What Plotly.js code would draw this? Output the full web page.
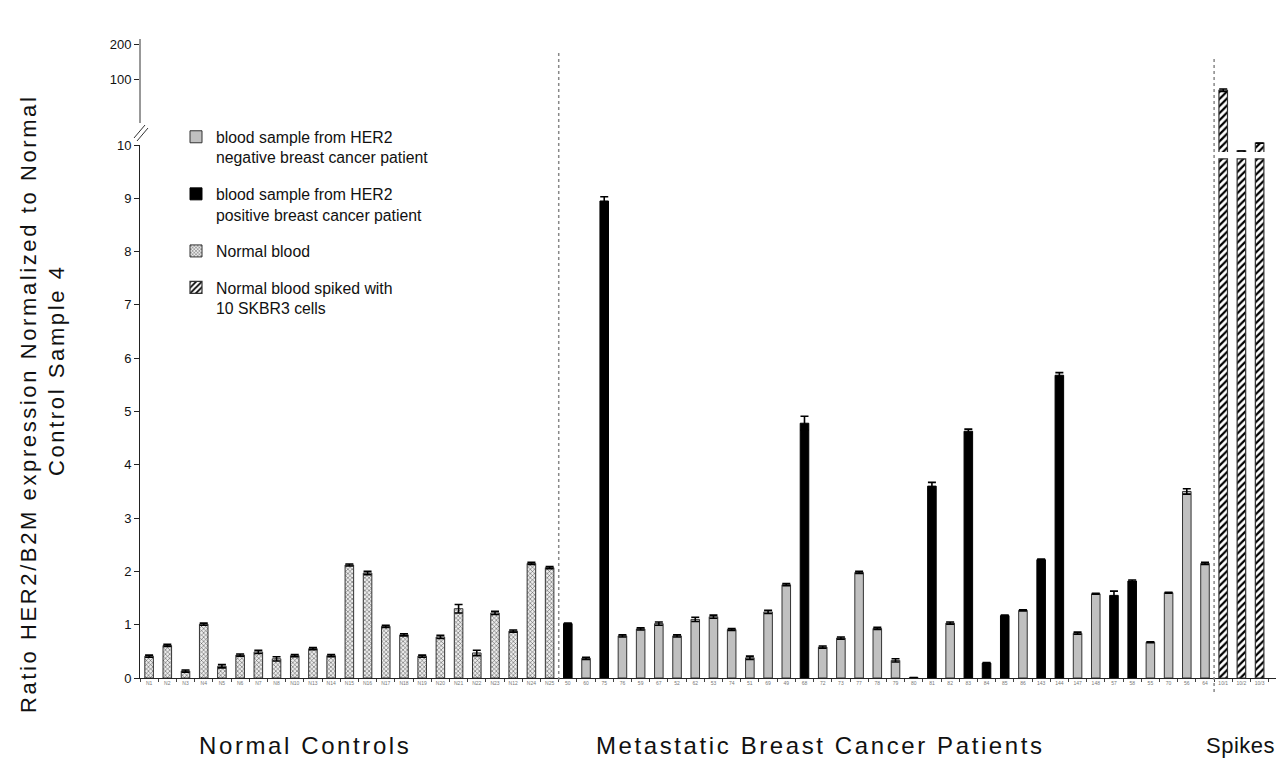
<!DOCTYPE html>
<html>
<head>
<meta charset="utf-8">
<script src="https://cdn.plot.ly/plotly-3.0.1.min.js"></script>
<style>html,body{margin:0;padding:0;background:#fff;}#chart{width:1276px;height:769px;}</style>
</head>
<body>
<div id="chart"></div>
<script>
// ---- Data ----
const normalLabels = ['N1','N2','N3','N4','N5','N6','N7','N8','N10','N13','N14','N15','N16','N17','N18','N19','N20','N21','N22','N23','N12','N24','N25'];
const normalValues = [0.41,0.61,0.13,1.01,0.22,0.43,0.49,0.36,0.42,0.55,0.42,2.12,1.97,0.97,0.81,0.41,0.77,1.30,0.47,1.22,0.88,2.15,2.07];
const normalErrors = [0.02,0.02,0.02,0.02,0.03,0.02,0.03,0.04,0.02,0.02,0.02,0.02,0.03,0.02,0.02,0.02,0.03,0.08,0.05,0.03,0.02,0.02,0.02];

const patientLabels = ['50','60','75','76','59','67','52','62','53','74','51','69','49','68','72','73','77','78','79','80','81','82','83','84','85','86','143','144','147','148','57','58','55','70','56','64'];
const patientValues = [1.02,0.37,8.95,0.79,0.92,1.02,0.79,1.10,1.15,0.91,0.38,1.24,1.75,4.78,0.58,0.75,1.98,0.93,0.33,0.01,3.60,1.03,4.63,0.28,1.17,1.27,2.22,5.68,0.84,1.58,1.55,1.82,0.67,1.60,3.50,2.15];
const patientErrors = [0.01,0.02,0.08,0.02,0.02,0.03,0.02,0.04,0.03,0.02,0.03,0.03,0.02,0.13,0.02,0.02,0.02,0.02,0.03,0.00,0.07,0.02,0.04,0.01,0.01,0.01,0.01,0.05,0.02,0.01,0.08,0.02,0.01,0.01,0.05,0.02];
const patientHER2 = ['pos','neg','pos','neg','neg','neg','neg','neg','neg','neg','neg','neg','neg','pos','neg','neg','neg','neg','neg','neg','pos','neg','pos','pos','pos','neg','pos','pos','neg','neg','pos','pos','neg','neg','neg','neg'];

const spikeLabels = ['10/1','10/2','10/3'];
const spikeValues = [80, 24, 28];
const spikeErrors = [2, null, null];

const yTickValsLower = [0,1,2,3,4,5,6,7,8,9,10];
const yTickValsUpper = [100,200];

const legendNames = ['blood sample from HER2<br>negative breast cancer patient','blood sample from HER2<br>positive breast cancer patient','Normal blood','Normal blood spiked with<br>10 SKBR3 cells'];
const groupLabels = ['Normal Controls','Metastatic Breast Cancer Patients','Spikes'];
const yTitleLines = ['Ratio HER2/B2M expression Normalized to Normal','Control Sample 4'];

// ---- Layout helpers (pixel -> paper) ----
const W = 1276, H = 769, ML = 140, MR = 0, MT = 40, MB = 91;
const PW = W - ML - MR, PH = H - MT - MB;
const px2x = p => (p - ML) / PW;
const px2y = p => (H - MB - p) / PH;
const lowerCap = 9.74; // where the broken axis clips the spike bars

const allLabels = normalLabels.concat(patientLabels, spikeLabels);
const pick = (arr, st) => arr.filter((_, i) => patientHER2[i] === st);

const font = 'Liberation Sans, Arial, sans-serif';
const errStyle = (arr) => ({type: 'data', array: arr, visible: true, color: '#000', thickness: 1.6, width: 4});
const spaced = (t, s) => '<span style="letter-spacing:' + s + 'px">' + t + '</span>';

const normalPattern = {shape:'x', fgcolor:'#444', bgcolor:'#ececec', size:3, solidity:0.3};
const spikePattern = {shape:'/', fgcolor:'#000', bgcolor:'#fff', size:5, solidity:0.45};

const traces = [
  {type:'bar', name: legendNames[0], legendgroup:'g1', x: pick(patientLabels,'neg'), y: pick(patientValues,'neg'),
   error_y: errStyle(pick(patientErrors,'neg')),
   marker:{color:'#c0c0c0', line:{color:'#333', width:1}}},
  {type:'bar', name: legendNames[1], legendgroup:'g2', x: pick(patientLabels,'pos'), y: pick(patientValues,'pos'),
   error_y: errStyle(pick(patientErrors,'pos')),
   marker:{color:'#000', line:{color:'#000', width:1}}},
  {type:'bar', name: legendNames[2], legendgroup:'g3', x: normalLabels, y: normalValues,
   error_y: errStyle(normalErrors),
   marker:{color:'#d8d8d8', line:{color:'#333', width:1}, pattern: normalPattern}},
  {type:'bar', name: legendNames[3], legendgroup:'g4', x: spikeLabels, y: spikeValues.map(v => Math.min(v, lowerCap)),
   marker:{color:'#fff', line:{color:'#333', width:1.2}, pattern: spikePattern}},
  {type:'bar', name: 'spike-upper', legendgroup:'g4', showlegend:false, x: spikeLabels, y: spikeValues, yaxis:'y2',
   error_y: errStyle(spikeErrors),
   marker:{color:'#fff', line:{color:'#333', width:1.2}, pattern: spikePattern}}
];
traces.forEach(t => { t.hoverinfo = 'x+y'; });

const shapes = [
  {type:'line', xref:'x', yref:'paper', x0:22.5, x1:22.5, y0:px2y(680), y1:px2y(50), line:{color:'#888', width:1.5, dash:'dot'}},
  {type:'line', xref:'x', yref:'paper', x0:58.5, x1:58.5, y0:px2y(692), y1:px2y(57), line:{color:'#888', width:1.5, dash:'dot'}},
  {type:'line', xref:'paper', yref:'paper', x0:0, x1:0, y0:px2y(123), y1:px2y(39), line:{color:'#333', width:1}},
  {type:'line', xref:'paper', yref:'paper', x0:px2x(134), x1:px2x(145), y0:px2y(138), y1:px2y(125), line:{color:'#333', width:1}},
  {type:'line', xref:'paper', yref:'paper', x0:px2x(137), x1:px2x(148), y0:px2y(141), y1:px2y(128), line:{color:'#333', width:1}}
];

const ann = (text, xp, yp, size, extra) => Object.assign({text: text, xref:'paper', yref:'paper', x:px2x(xp), y:px2y(yp),
  xanchor:'center', yanchor:'middle', showarrow:false, font:{family:font, size:size, color:'#111'}}, extra || {});

const annotations = [
  ann(spaced(yTitleLines[0], 2.6), 28, 404, 22, {textangle:-90}),
  ann(spaced(yTitleLines[1], 2.6), 57, 370, 22, {textangle:-90}),
  ann(spaced(groupLabels[0], 2.6), 305, 746, 24),
  ann(spaced(groupLabels[1], 2.6), 820, 746, 24),
  ann(spaced(groupLabels[2], 0.5), 1204, 746, 22, {xanchor:'left'})
];

const layout = {
  width: W, height: H,
  margin: {l: ML, r: MR, t: MT, b: MB},
  paper_bgcolor:'#fff', plot_bgcolor:'rgba(0,0,0,0)',
  font: {family: font, color:'#111'},
  barmode: 'overlay', bargap: 0.53,
  showlegend: true,
  legend: {x: px2x(176), y: px2y(120), xanchor:'left', yanchor:'top', bgcolor:'rgba(0,0,0,0)', valign:'top',
           font:{family:font, size:15.8, color:'#111'}, tracegroupgap: 13, traceorder:'grouped'},
  xaxis: {type:'category', categoryorder:'array', categoryarray: allLabels, range:[-0.5, 61.9],
          anchor:'y', showline:true, linecolor:'#222', linewidth:1, showgrid:false, zeroline:false,
          ticks:'outside', tickson:'boundaries', ticklen:3, tickcolor:'#444', tickangle:0,
          tickfont:{family:font, size:5, color:'#777'}, fixedrange:true},
  yaxis: {domain:[0, px2y(145)], range:[0,10], tickvals: yTickValsLower, showline:true, linecolor:'#222', linewidth:1,
          ticks:'outside', ticklen:5, tickcolor:'#222', showgrid:false, zeroline:false,
          tickfont:{family:font, size:13, color:'#111'}, fixedrange:true},
  yaxis2: {domain:[px2y(152), 1], type:'log', range:[1.371, 2.336], anchor:'x', tickvals: yTickValsUpper, ticktext: yTickValsUpper.map(String),
           showline:false, ticks:'outside', ticklen:5, tickcolor:'#222', showgrid:false, zeroline:false,
           tickfont:{family:font, size:13, color:'#111'}, fixedrange:true},
  shapes: shapes,
  annotations: annotations
};

Plotly.newPlot('chart', traces, layout, {displayModeBar:false, responsive:false});
</script>
</body>
</html>
